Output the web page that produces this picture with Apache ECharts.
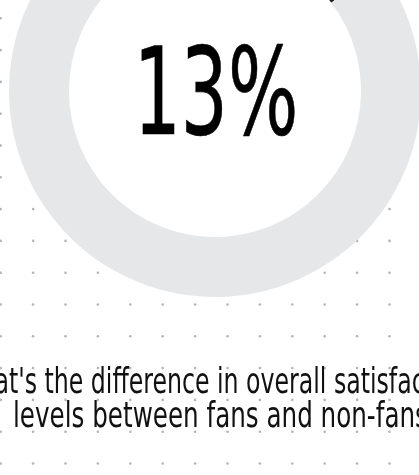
<!DOCTYPE html>
<html>
<head>
<meta charset="utf-8">
<script src="https://cdn.jsdelivr.net/npm/echarts@6/dist/echarts.min.js"></script>
<style>
  html, body { margin: 0; padding: 0; background: #fff; }
  #chart { width: 419px; height: 475px; }
</style>
</head>
<body>
<div id="chart"></div>
<script>
// data
var categories = ['Difference', 'Rest'];
var values = [13, 87];
var centerLabel = '13%';
var question = ["What's the difference in overall satisfaction", 'levels between fans and non-fans?'];

// dotted background grid (decoration)
var dots = [];
for (var i = 0; i < 14; i++) {
  for (var j = 0; j < 16; j++) {
    dots.push([0.7 + i * 32.4, 18.3 + j * 31.8]);
  }
}

var font = "'DejaVu Sans Condensed', 'Liberation Sans Narrow', 'Roboto', sans-serif";

var myChart = echarts.init(document.getElementById('chart'), null, { renderer: 'canvas' });

var option = {
  backgroundColor: '#fff',
  animation: false,
  grid: { left: 0, right: 0, top: 0, bottom: 0 },
  xAxis: { type: 'value', min: 0, max: 419, show: false },
  yAxis: { type: 'value', min: 0, max: 475, inverse: true, show: false },
  series: [
    {
      type: 'scatter',
      data: dots,
      symbolSize: 2.6,
      itemStyle: { color: '#a3a3a3' },
      silent: true,
      z: 1
    },
    {
      // white disc inside the ring
      type: 'pie',
      center: [215, 91],
      radius: [0, 147],
      silent: true,
      label: { show: false },
      data: [{ value: 1, itemStyle: { color: '#fff' } }],
      z: 2
    },
    {
      type: 'pie',
      center: [215, 91],
      radius: [146, 206],
      startAngle: 84,
      clockwise: true,
      silent: true,
      label: { show: false },
      labelLine: { show: false },
      data: categories.map(function (c, k) {
        return { name: c, value: values[k], itemStyle: { color: k === 0 ? '#1c1c1c' : '#e6e7e9' } };
      }),
      z: 3
    }
  ],
  graphic: [
    {
      type: 'text',
      x: 216, y: 103,
      scaleX: 0.68,
      z: 10,
      style: {
        text: centerLabel,
        fontFamily: font,
        fontSize: 121,
        fill: '#000',
        stroke: '#000',
        lineWidth: 0.6,
        align: 'center',
        verticalAlign: 'middle'
      }
    },
    {
      type: 'text',
      x: 213, y: 384,
      scaleX: 0.73,
      z: 10,
      style: {
        text: question[0],
        fontFamily: font,
        fontSize: 36,
        fill: '#111',
        align: 'center',
        verticalAlign: 'middle'
      }
    },
    {
      type: 'text',
      x: 227, y: 418,
      scaleX: 0.76,
      z: 10,
      style: {
        text: question[1],
        fontFamily: font,
        fontSize: 36,
        fill: '#111',
        align: 'center',
        verticalAlign: 'middle'
      }
    }
  ]
};
myChart.setOption(option);
</script>
</body>
</html>
